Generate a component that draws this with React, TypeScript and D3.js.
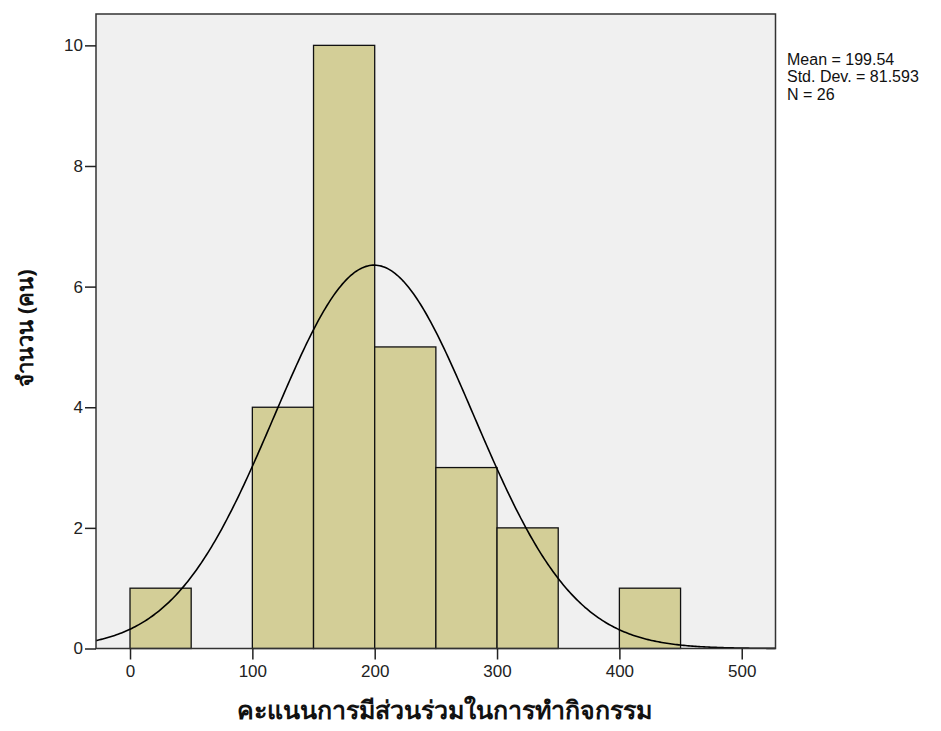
import React, { useEffect, useRef } from "react";
import * as d3 from "d3";

const binStarts = [0, 50, 100, 150, 200, 250, 300, 350, 400, 450];
const binCounts = [1, 0, 4, 10, 5, 3, 2, 0, 1, 0];
const binWidth = 50;
const xTicks = [0, 100, 200, 300, 400, 500];
const yTicks = [0, 2, 4, 6, 8, 10];
const statMean = 199.54;
const statSd = 81.593;
const statN = 26;
const statLines = ["Mean = 199.54", "Std. Dev. = 81.593", "N = 26"];
const xTitle = "คะแนนการมีส่วนร่วมในการทำกิจกรรม";
const yTitle = "จำนวน (คน)";

const W = 941, H = 731;
const L = 96, T = 14, R = 775.5, B = 648.5;

export default function App() {
  const ref = useRef<SVGSVGElement>(null);
  useEffect(() => {
    const svg = d3.select(ref.current);
    svg.selectAll("*").remove();
    const x = d3.scaleLinear().domain([-27.8, 527.6]).range([L, R]);
    const y = d3.scaleLinear().domain([0, 10.52]).range([B, T]);

    svg.append("rect").attr("x", L).attr("y", T).attr("width", R - L).attr("height", B - T)
      .attr("fill", "#f0f0f0");

    const bins = binStarts.map((s, i) => ({ s, c: binCounts[i] })).filter(d => d.c > 0);
    svg.append("g").selectAll("rect").data(bins).join("rect")
      .attr("x", d => x(d.s))
      .attr("y", d => y(d.c))
      .attr("width", d => x(d.s + binWidth) - x(d.s))
      .attr("height", d => y(0) - y(d.c))
      .attr("fill", "#d3ce97")
      .attr("stroke", "#111")
      .attr("stroke-width", 1.3);

    const pdf = (v: number) => statN * binWidth * Math.exp(-0.5 * ((v - statMean) / statSd) ** 2) / (statSd * Math.sqrt(2 * Math.PI));
    const xs = d3.range(0, 401).map(i => -27.8 + (527.6 + 27.8) * i / 400);
    const line = d3.line<number>().x(v => x(v)).y(v => y(pdf(v))).curve(d3.curveLinear);
    svg.append("path").attr("d", line(xs) as string).attr("fill", "none")
      .attr("stroke", "#000").attr("stroke-width", 1.6);

    svg.append("rect").attr("x", L).attr("y", T).attr("width", R - L).attr("height", B - T)
      .attr("fill", "none").attr("stroke", "#333").attr("stroke-width", 1.5);

    const gx = svg.append("g").attr("transform", `translate(0,${B})`)
      .call(d3.axisBottom(x).tickValues(xTicks).tickSize(11).tickSizeOuter(0).tickPadding(5).tickFormat(d3.format("d")));
    gx.select(".domain").remove();
    gx.selectAll("line").attr("stroke", "#222").attr("stroke-width", 1.5);
    gx.selectAll("text").attr("font-family", "Arial, 'Liberation Sans', sans-serif").attr("font-size", 17).attr("fill", "#222");

    const gy = svg.append("g").attr("transform", `translate(${L},0)`)
      .call(d3.axisLeft(y).tickValues(yTicks).tickSize(11).tickSizeOuter(0).tickPadding(2).tickFormat(d3.format("d")));
    gy.select(".domain").remove();
    gy.selectAll("line").attr("stroke", "#222").attr("stroke-width", 1.5);
    gy.selectAll("text").attr("font-family", "Arial, 'Liberation Sans', sans-serif").attr("font-size", 17).attr("fill", "#222");

    svg.append("g").selectAll("text").data(statLines).join("text")
      .attr("x", 787).attr("y", (_, i) => 64.5 + i * 17.5)
      .attr("font-family", "Arial, 'Liberation Sans', sans-serif").attr("font-size", 16)
      .attr("fill", "#111").text(d => d);

    svg.append("text").attr("x", 444).attr("y", 719).attr("text-anchor", "middle")
      .attr("font-family", "'Noto Sans', 'DejaVu Sans', sans-serif").attr("font-weight", "bold")
      .attr("font-size", 25).attr("fill", "#111").text(xTitle);

    svg.append("text").attr("transform", `translate(33,328) rotate(-90)`).attr("text-anchor", "middle")
      .attr("font-family", "'Noto Sans', 'DejaVu Sans', sans-serif").attr("font-weight", "bold")
      .attr("font-size", 22).attr("fill", "#111").text(yTitle);
  }, []);
  return (
    <div style={{ margin: -8 }}>
      <svg ref={ref} width={W} height={H} style={{ display: "block", background: "#fff" }} />
    </div>
  );
}
